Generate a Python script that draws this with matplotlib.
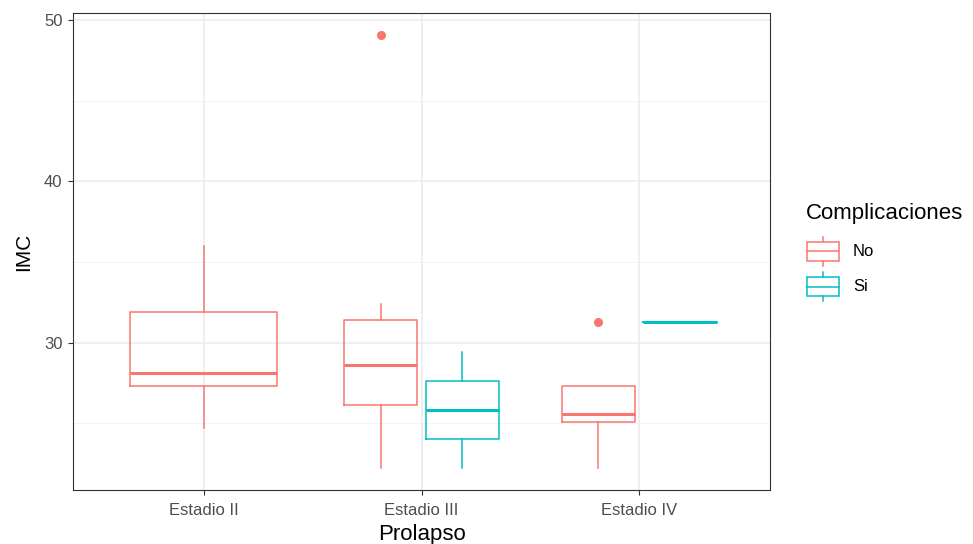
import numpy as np
import matplotlib
matplotlib.use("Agg")
import matplotlib.pyplot as plt
from matplotlib.lines import Line2D
from matplotlib.patches import Rectangle

plt.rcParams['font.family'] = ['Liberation Sans', 'DejaVu Sans']

stages = ["Estadio II", "Estadio III", "Estadio IV"]
groups = ["No", "Si"]
colors = {"No": "#F8766D", "Si": "#00BFC4"}

# box statistics per stage, None where the group has no patients
no_whislo = [24.7, 22.2, 22.2]
no_q1 = [27.3, 26.1, 25.1]
no_med = [28.1, 28.6, 25.6]
no_q3 = [31.9, 31.4, 27.3]
no_whishi = [36.0, 32.4, 27.3]
no_fliers = [[], [49.1], [31.3]]

si_whislo = [None, 22.2, 31.3]
si_q1 = [None, 24.0, 31.3]
si_med = [None, 25.8, 31.3]
si_q3 = [None, 27.6, 31.3]
si_whishi = [None, 29.4, 31.3]
si_fliers = [[], [], []]

stats = {
    "No": (no_whislo, no_q1, no_med, no_q3, no_whishi, no_fliers),
    "Si": (si_whislo, si_q1, si_med, si_q3, si_whishi, si_fliers),
}

W, H = 973, 544
fig = plt.figure(figsize=(W / 100, H / 100), dpi=100)
ax = fig.add_axes([73 / W, 1 - 490 / H, (770 - 73) / W, (490 - 13) / H])

# dodge like ggplot: total width 0.75, padding 0.1
for i, st in enumerate(stages):
    present = [g for g in groups if stats[g][2][i] is not None]
    n = len(present)
    w = 0.75 / n
    for k, g in enumerate(present):
        lo, q1, med, q3, hi, fl = (s[i] for s in stats[g])
        pos = i + 1 - 0.375 + w * (k + 0.5)
        d = dict(whislo=lo, q1=q1, med=med, q3=q3, whishi=hi, fliers=fl)
        c = colors[g]
        ax.bxp([d], positions=[pos], widths=[w * 0.9], showcaps=False,
               boxprops=dict(color=c, linewidth=1.1),
               whiskerprops=dict(color=c, linewidth=1.1),
               medianprops=dict(color=c, linewidth=2.2, solid_capstyle='butt'),
               flierprops=dict(marker='o', markerfacecolor=c, markeredgecolor=c,
                               markersize=5.5),
               manage_ticks=False, zorder=3)

allvals = [v for s in stats.values() for arr in s[:5] for v in arr if v is not None]
allvals += [v for s in stats.values() for fl in s[5] for v in fl]
lo, hi = min(allvals), max(allvals)
pad = 0.05 * (hi - lo)
ax.set_ylim(lo - pad, hi + pad)
ax.set_xlim(0.4, 3.6)

ax.set_xticks(range(1, 4))
ax.set_xticklabels(stages)
ax.set_yticks([30, 40, 50])
ax.set_yticks([25, 35, 45], minor=True)
ax.grid(True, which='major', color='#EBEBEB', linewidth=1.1, zorder=0)
ax.grid(True, which='minor', axis='y', color='#F2F2F2', linewidth=0.6, zorder=0)
ax.set_axisbelow(True)
ax.tick_params(axis='both', which='major', length=3.5, width=0.8, color='#333333',
               labelcolor='#4D4D4D', labelsize=12, pad=4)
ax.tick_params(axis='x', which='major', pad=6)
ax.tick_params(axis='y', which='minor', length=0)
for sp in ax.spines.values():
    sp.set_color('#333333')
    sp.set_linewidth(0.8)

ax.set_xlabel("Prolapso", fontsize=16, labelpad=4)
ax.set_ylabel("IMC", fontsize=15, labelpad=8)


# legend drawn by hand with small boxplot keys
def fpt(x, y):
    return x / W, 1 - y / H


fig.text(*fpt(806, 214), "Complicaciones", fontsize=16, ha='left', va='center',
         color='black')
for j, g in enumerate(groups):
    c = colors[g]
    cy = 251 + 35.5 * j
    x0, x1 = 807, 839
    xc = (x0 + x1) / 2
    bx, by = fpt(x0, cy + 9.5)
    fig.add_artist(Rectangle((bx, by), (x1 - x0) / W, 19 / H, facecolor='white',
                             edgecolor=c, linewidth=1.1, transform=fig.transFigure))
    for ya, yb in [(cy - 9.5, cy - 14.5), (cy + 9.5, cy + 14.5)]:
        fig.add_artist(Line2D([xc / W] * 2, [1 - ya / H, 1 - yb / H], color=c,
                              linewidth=1.1, transform=fig.transFigure))
    fig.add_artist(Line2D([x0 / W, x1 / W], [1 - cy / H] * 2, color=c,
                          linewidth=1.1, transform=fig.transFigure))
    fig.text(*fpt(853, cy), g, fontsize=12, ha='left', va='center', color='black')

fig.savefig("out.png", dpi=100)
